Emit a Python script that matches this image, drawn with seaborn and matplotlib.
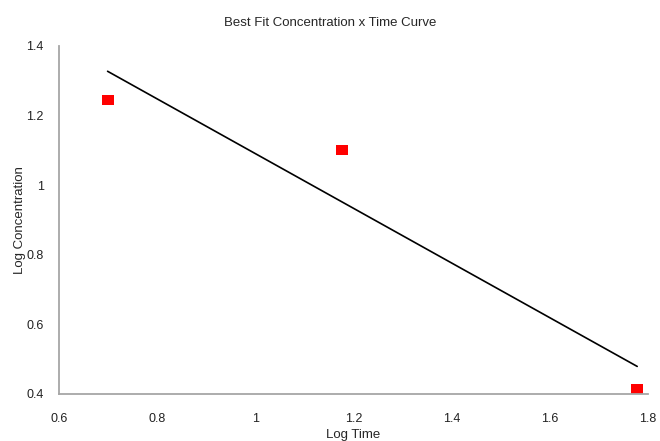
import matplotlib
matplotlib.use('Agg')
import matplotlib.pyplot as plt
import seaborn as sns
import pandas as pd

# Data (log10 values)
log_time = [0.699, 1.176, 1.778]
log_conc = [1.245, 1.100, 0.414]
x_ticks = [0.6, 0.8, 1.0, 1.2, 1.4, 1.6, 1.8]
x_tick_labels = ['0.6', '0.8', '1', '1.2', '1.4', '1.6', '1.8']
y_ticks = [0.4, 0.6, 0.8, 1.0, 1.2, 1.4]
y_tick_labels = ['0.4', '0.6', '0.8', '1', '1.2', '1.4']

df = pd.DataFrame({'Log Time': log_time, 'Log Concentration': log_conc})

sns.set_style('white')
plt.rcParams['font.family'] = ['Liberation Sans', 'DejaVu Sans']

fig = plt.figure(figsize=(6.6, 4.41), dpi=100)
ax = fig.add_axes([0.0894, 0.1066, 0.8924, 0.7891])

# Excel-like flat rectangle marker
rect = [(-1, -0.75), (1, -0.75), (1, 0.75), (-1, 0.75), (-1, -0.75)]

sns.regplot(data=df, x='Log Time', y='Log Concentration', ax=ax, ci=None,
            marker=rect,
            scatter_kws={'color': '#ff0000', 's': 75, 'linewidths': 0, 'alpha': 1},
            line_kws={'color': 'black', 'linewidth': 1.2})

ax.set_xlim(0.6, 1.8)
ax.set_ylim(0.4, 1.4)
ax.set_xticks(x_ticks)
ax.set_xticklabels(x_tick_labels)
ax.set_yticks(y_ticks)
ax.set_yticklabels(y_tick_labels)
ax.tick_params(axis='both', length=0, labelsize=9, colors='#222222')
ax.tick_params(axis='x', pad=13.5)
ax.tick_params(axis='y', pad=11)

for side in ['top', 'right']:
    ax.spines[side].set_visible(False)
for side in ['left', 'bottom']:
    ax.spines[side].set_color('#a6a6a6')
    ax.spines[side].set_linewidth(1.3)

ax.set_xlabel('Log Time', fontsize=9.5, labelpad=3)
ax.set_ylabel('Log Concentration', fontsize=9.5, labelpad=0)
fig.suptitle('Best Fit Concentration x Time Curve', fontsize=9.5, y=0.962)

plt.savefig('out.png', dpi=100)
